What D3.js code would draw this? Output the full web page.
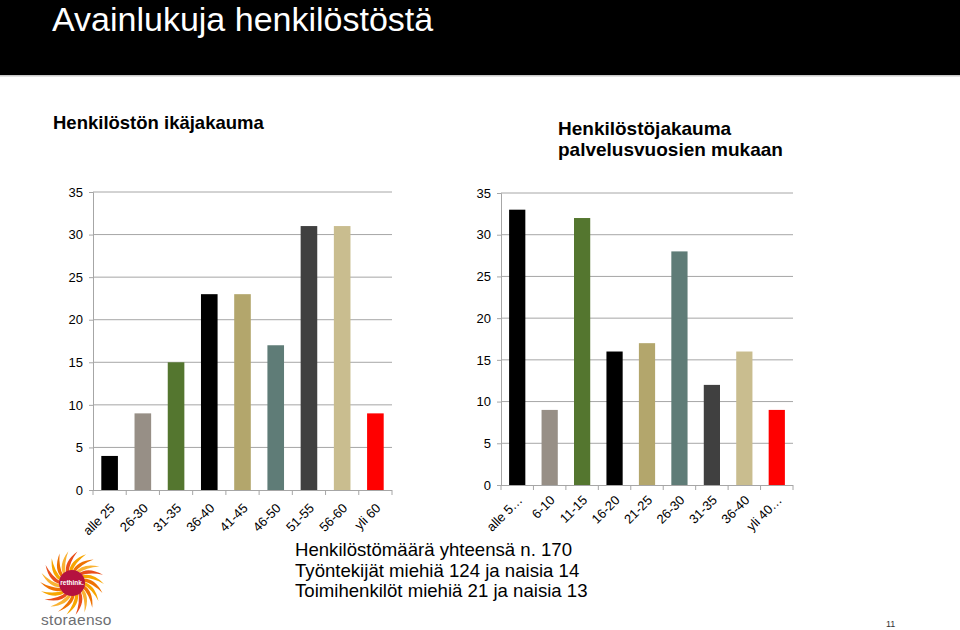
<!DOCTYPE html>
<html><head><meta charset="utf-8">
<script src="https://cdn.jsdelivr.net/npm/d3@7"></script>
<style>
html,body{margin:0;padding:0;background:#fff;}
svg{display:block;font-family:"Liberation Sans",Arial,sans-serif;}
</style></head>
<body><svg id="c" width="960" height="630"></svg>
<script>
const ageCategories = ["alle 25","26-30","31-35","36-40","41-45","46-50","51-55","56-60","yli 60"];
const ageValues = [4,9,15,23,23,17,31,31,9];
const serviceCategories = ["alle 5…","6-10","11-15","16-20","21-25","26-30","31-35","36-40","yli 40…"];
const serviceValues = [33,9,32,16,17,28,12,16,9];
const barColors = ["#000000","#978f86","#54762f","#000000","#b3a66c","#5f7c77","#404040","#c9bd8f","#ff0000"];
const yTickValues = [0,5,10,15,20,25,30,35];
const bottomLines = ["Henkilöstömäärä yhteensä n. 170","Työntekijät miehiä 124 ja naisia 14","Toimihenkilöt miehiä 21 ja naisia 13"];

const svg = d3.select("#c");
// header band
svg.append("rect").attr("x",0).attr("y",0).attr("width",960).attr("height",75).attr("fill","#000");
svg.append("rect").attr("x",0).attr("y",75).attr("width",960).attr("height",1.5).attr("fill","#c8c8c8");
svg.append("text").attr("x",52).attr("y",31).attr("fill","#fff").attr("font-size",34)
  .text("Avainlukuja henkilöstöstä");

svg.append("text").attr("x",53).attr("y",129).attr("font-size",18.5).attr("font-weight","bold").text("Henkilöstön ikäjakauma");
const st = svg.append("text").attr("x",558).attr("font-size",19).attr("font-weight","bold");
st.append("tspan").attr("x",558).attr("y",135).text("Henkilöstöjakauma");
st.append("tspan").attr("x",558).attr("y",156).text("palvelusvuosien mukaan");

function drawChart(left,right,top,bottom,cats,vals,labelDy){
  const g = svg.append("g");
  const x = d3.scaleBand().domain(cats).range([left,right]).paddingInner(0.5).paddingOuter(0.25);
  const y = d3.scaleLinear().domain([0,35]).range([bottom,top]);
  // gridlines
  g.selectAll("line.grid").data(yTickValues.filter(v=>v>0)).join("line")
    .attr("x1",left).attr("x2",right).attr("y1",d=>y(d)).attr("y2",d=>y(d))
    .attr("stroke","#a6a6a6").attr("stroke-width",1);
  // bars
  g.selectAll("rect.bar").data(vals).join("rect")
    .attr("x",(d,i)=>x(cats[i])).attr("width",x.bandwidth())
    .attr("y",d=>y(d)).attr("height",d=>bottom-y(d))
    .attr("fill",(d,i)=>barColors[i]);
  // y axis
  const ya = g.append("g").attr("transform",`translate(${left},0)`)
    .call(d3.axisLeft(y).tickValues(yTickValues).tickSize(4).tickPadding(6));
  ya.select(".domain").attr("stroke","#a6a6a6");
  ya.selectAll(".tick line").attr("stroke","#a6a6a6");
  ya.selectAll(".tick text").attr("font-size",13).attr("fill","#000").attr("font-family","Liberation Sans, Arial, sans-serif");
  // x axis with ticks between categories
  const xa = g.append("g");
  xa.append("line").attr("x1",left).attr("x2",right).attr("y1",bottom+0.5).attr("y2",bottom+0.5).attr("stroke","#a6a6a6");
  const bounds = d3.range(cats.length+1).map(i=>left + (right-left)*i/cats.length);
  xa.selectAll("line.t").data(bounds).join("line")
    .attr("x1",d=>d).attr("x2",d=>d).attr("y1",bottom).attr("y2",bottom+5).attr("stroke","#a6a6a6");
  xa.selectAll("text").data(cats).join("text")
    .attr("transform",d=>`translate(${x(d)+x.bandwidth()/2+6},${bottom+labelDy}) rotate(-45)`)
    .attr("text-anchor","end").attr("font-size",13).attr("fill","#000").text(d=>d);
}
drawChart(93,392,192,490,ageCategories,ageValues,19);
drawChart(501,793,193,485,serviceCategories,serviceValues,16);

// bottom text
const bt = svg.append("text").attr("font-size",18.6).attr("fill","#000");
bottomLines.forEach((t,i)=>bt.append("tspan").attr("x",295).attr("y",556+i*20.5).text(t));

// page number
svg.append("text").attr("x",886).attr("y",627).attr("font-size",9).attr("fill","#333").text("11");

// logo
const logo = svg.append("g").attr("transform","translate(72,583)");
const rayColors = ["#f7a600","#ee7203","#f9b233","#e94e1b"];
const nRays = 22;
for(let i=0;i<nRays;i++){
  const a = i*2*Math.PI/nRays;
  const p = d3.path();
  const r0=11, r1=32, tw=0.6;
  const pt=(r,ang)=>[r*Math.cos(ang),r*Math.sin(ang)];
  const [ax,ay]=pt(r0,a-0.12),[bx,by]=pt(r1,a+tw),[cx,cy]=pt(r0,a+0.12);
  const [m1x,m1y]=pt(r0+12,a+0.05),[m2x,m2y]=pt(r0+10,a+0.3);
  p.moveTo(ax,ay); p.quadraticCurveTo(m1x,m1y,bx,by); p.quadraticCurveTo(m2x,m2y,cx,cy); p.closePath();
  logo.append("path").attr("d",p.toString()).attr("fill",rayColors[i%4]);
}
logo.append("circle").attr("r",13).attr("fill","#b5123f");
logo.append("text").attr("text-anchor","middle").attr("y",2).attr("font-size",6.5).attr("font-weight","bold").attr("fill","#fff").text("rethink.");
svg.append("text").attr("x",41).attr("y",625).attr("font-size",15.5).attr("fill","#6d6e71").attr("letter-spacing",0.3).text("storaenso");
</script></body></html>
